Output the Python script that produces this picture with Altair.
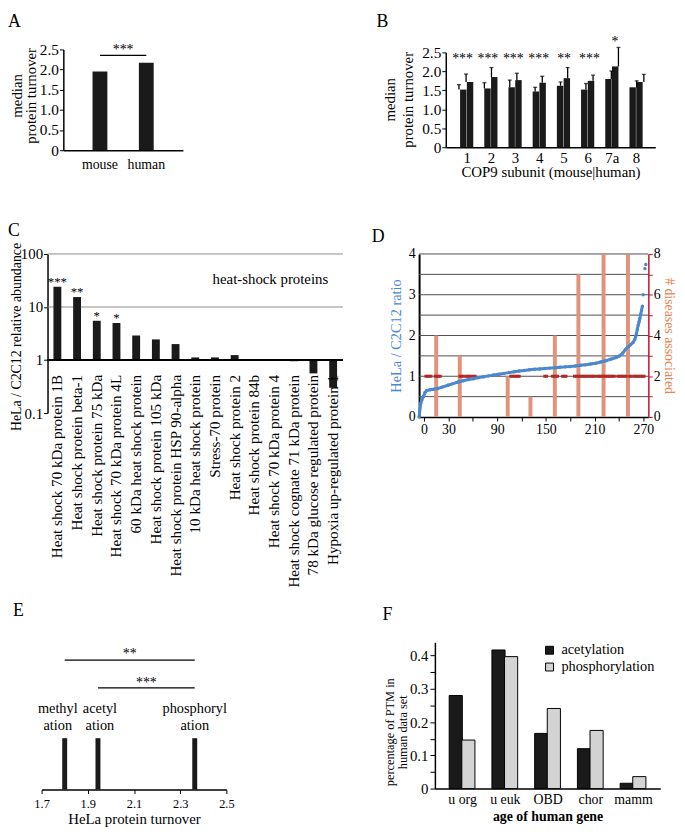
import json
import altair as alt
import pandas as pd

FONT = "Liberation Serif"
BLACK = "#1a1a1a"
GREY_BAR = "#d3d3d3"
BLUE = "#4a88d0"
ORANGE_BAR = "#e0937a"
ORANGE_TXT = "#e8844f"
RED_AXIS = "#c8102e"
DARK_RED = "#b02a2a"

# ---------------- data ----------------
# A
a_species = ["mouse", "human"]
a_turnover = [1.95, 2.17]

# B
b_subunits = ["1", "2", "3", "4", "5", "6", "7a", "8"]
b_mouse = [1.52, 1.55, 1.58, 1.47, 1.62, 1.52, 1.80, 1.58]
b_mouse_err = [1.65, 1.70, 1.77, 1.58, 1.72, 1.68, 2.01, 1.75]
b_human = [1.72, 1.85, 1.77, 1.70, 1.82, 1.75, 2.13, 1.72]
b_human_err = [1.93, 2.10, 1.95, 1.87, 2.10, 1.90, 2.63, 1.92]
b_stars = ["***", "***", "***", "***", "**", "***", "*", ""]

# C
c_proteins = [
    "Heat shock 70 kDa protein 1B",
    "Heat shock protein beta-1",
    "Heat shock protein 75 kDa",
    "Heat shock 70 kDa protein 4L",
    "60 kDa heat shock protein",
    "Heat shock protein 105 kDa",
    "Heat shock protein HSP 90-alpha",
    "10 kDa heat shock protein",
    "Stress-70 protein",
    "Heat shock protein 2",
    "Heat shock protein 84b",
    "Heat shock 70 kDa protein 4",
    "Heat shock cognate 71 kDa protein",
    "78 kDa glucose regulated protein",
    "Hypoxia up-regulated protein 1",
]
c_ratio = [24.0, 15.4, 5.5, 5.0, 2.9, 2.45, 2.0, 1.12, 1.12, 1.24, 1.0, 1.0, 0.95, 0.56, 0.30]
c_stars = ["***", "**", "*", "*", "", "", "", "", "", "", "", "", "", "", ""]

# D  (sorted HeLa / C2C12 ratio curve)
d_idx = [0, 2, 3, 5, 7, 9, 13, 17, 22, 28, 34, 40, 46, 52, 58, 64, 70, 76, 82, 88,
         94, 100, 106, 112, 118, 124, 130, 136, 142, 148, 154, 160, 166, 172, 178,
         184, 190, 196, 202, 208, 214, 220, 226, 232, 236, 240, 243, 246, 249, 252,
         254, 255, 256, 257, 258, 259, 260, 261, 262, 263, 264, 266, 267]
d_ratio = [0.0, 0.34, 0.40, 0.50, 0.60, 0.65, 0.67, 0.68, 0.70, 0.74, 0.78, 0.82,
           0.86, 0.89, 0.92, 0.94, 0.97, 0.99, 1.01, 1.03, 1.05, 1.07, 1.09, 1.11,
           1.13, 1.14, 1.16, 1.17, 1.18, 1.19, 1.20, 1.21, 1.22, 1.23, 1.24, 1.25,
           1.27, 1.28, 1.30, 1.32, 1.35, 1.38, 1.42, 1.46, 1.50, 1.57, 1.66, 1.72,
           1.77, 1.83, 1.90, 1.97, 2.05, 2.15, 2.25, 2.33, 2.42, 2.52, 2.62, 2.72,
           3.00, 3.64, 3.74]
d_bar_idx = [15, 44, 103, 131, 161, 190, 221, 251]
d_bar_count = [4, 3, 2, 1, 4, 7, 8, 8]
d_red_idx = [8, 10, 12, 14, 19, 21, 23, 25, 48, 50, 52, 55, 57, 59, 61, 64, 66,
             108, 110, 112, 114, 116, 118, 148, 150, 157, 159, 161, 163, 169, 171,
             173, 183, 185, 187, 189, 191, 193, 195, 197, 199, 201, 203, 205, 207,
             210, 212, 214, 216, 218, 220, 222, 224, 226, 228, 230, 234, 236, 238,
             240, 242, 244, 248, 250, 253, 255, 257, 259, 261, 263, 265]
d_red_count = [2] * len(d_red_idx)
d_grid = [0.5, 1, 1.5, 2, 2.5, 3, 3.5, 4]

# E
e_ptm = ["methylation", "acetylation", "phosphorylation"]
e_label = ["methyl\nation", "acetyl\nation", "phosphoryl\nation"]
e_turnover = [1.80, 1.944, 2.363]
e_pairs_from = ["methylation", "acetylation"]
e_pairs_to = ["phosphorylation", "phosphorylation"]
e_pair_stars = ["**", "***"]

# F
f_age = ["u org", "u euk", "OBD", "chor", "mamm"]
f_series = ["acetylation", "phosphorylation"]
f_acetyl = [0.280, 0.417, 0.166, 0.120, 0.016]
f_phospho = [0.146, 0.397, 0.241, 0.175, 0.036]

# ---------------- canvas ----------------
W, H = 677, 822


def P(v):
    """page pixel -> canvas pixel (page has an 8px margin)"""
    return v - 8


def letter(ch, x, y):
    return alt.Chart(pd.DataFrame({"t": [ch]})).mark_text(
        align="left", baseline="top", fontSize=18, font=FONT, color="black"
    ).encode(text="t:N", x=alt.value(x), y=alt.value(y))


def vtitle(text, x, y, size):
    return alt.Chart(pd.DataFrame({"t": [text]})).mark_text(
        angle=270, align="center", baseline="alphabetic", fontSize=size, font=FONT
    ).encode(text="t:N", x=alt.value(x), y=alt.value(y))


def turn_axis(x_axis_px):
    return alt.Axis(orient="left", offset=-x_axis_px,
                    values=[0, 0.5, 1, 1.5, 2, 2.5], tickCount=30,
                    labelExpr="datum.value == 0 ? '0' : format(datum.value, '.1f')",
                    tickSize=4, domainWidth=1.5, labelPadding=1, labelFontSize=15.5,
                    labelOverlap=False)


layers = []

# ---------------- A ----------------
xA = alt.Scale(domain=a_species, range=[P(64), P(185)], paddingInner=0.68, paddingOuter=0.63)
yA = alt.Scale(domain=[0, 2.5], range=[P(147), P(45)], nice=False)
dfA = pd.DataFrame({"species": a_species, "turnover": a_turnover})
layers.append(alt.Chart(dfA).mark_bar(color=BLACK).encode(
    x=alt.X("species:N", sort=a_species, title=None, scale=xA,
            axis=alt.Axis(orient="bottom", offset=P(147) - H, labelAngle=0, ticks=False,
                          domainWidth=1.5, labelPadding=8)),
    y=alt.Y("turnover:Q", scale=yA, axis=turn_axis(P(64)), title=None),
))
layers.append(alt.Chart(pd.DataFrame({"a": [a_species[0]], "b": [a_species[1]]})).mark_rule(
    color="black", strokeWidth=1.2
).encode(x=alt.X("a:N", sort=a_species, scale=xA, axis=None), x2="b:N",
         y=alt.YDatum(2.35, scale=yA, axis=None)))
layers.append(alt.Chart(pd.DataFrame({"s": ["***"]})).mark_text(baseline="middle", fontSize=14).encode(
    x=alt.value(P(124.5)), y=alt.YDatum(2.49, scale=yA, axis=None), text="s:N"))
layers += [vtitle("median", P(22), P(92), 15), vtitle("protein turnover", P(36), P(92), 15),
           letter("A", P(8), P(8))]

# ---------------- B ----------------
xB = alt.Scale(domain=[-0.66, 7.59], range=[P(451), P(663)], nice=False, zero=False)
yB = alt.Scale(domain=[0, 2.5], range=[P(144), P(48)], nice=False)
B_SHIFT = {"mouse": -0.14, "human": 0.14}   # half-bar offsets within a subunit group
rows = []
for i, (s, m, me, h, he) in enumerate(zip(b_subunits, b_mouse, b_mouse_err, b_human, b_human_err)):
    rows.append(dict(subunit=s, species="mouse", x=i + B_SHIFT["mouse"], value=m, err=me))
    rows.append(dict(subunit=s, species="human", x=i + B_SHIFT["human"], value=h, err=he))
dfB = pd.DataFrame(rows)
dfBs = pd.DataFrame({
    "x": list(range(len(b_subunits))), "star": b_stars,
    "y": [max(2.33, max(a, b) + 0.13) for a, b in zip(b_mouse_err, b_human_err)],
})
layers.append(alt.Chart(dfB).mark_bar(color=BLACK, size=6.5).encode(
    x=alt.X("x:Q", scale=xB, title="COP9 subunit (mouse|human)",
            axis=alt.Axis(orient="bottom", offset=P(144) - H,
                          values=list(range(len(b_subunits))), tickCount=30,
                          labelExpr=json.dumps(b_subunits) + "[datum.value]",
                          labelAngle=0, ticks=False, domainWidth=1.5, labelPadding=3,
                          labelFontSize=15, titlePadding=0, titleFontSize=15,
                          labelFlush=False, labelOverlap=False)),
    y=alt.Y("value:Q", scale=yB, axis=turn_axis(P(451)), title=None),
))
layers.append(alt.Chart(dfB).mark_rule(color="black", strokeWidth=1.3).encode(
    x=alt.X("x:Q", scale=xB, axis=None), y=alt.Y("value:Q", scale=yB, axis=None), y2="err:Q"))
layers.append(alt.Chart(dfB).mark_tick(color="black", thickness=1.3, size=4, orient="horizontal").encode(
    x=alt.X("x:Q", scale=xB, axis=None), y=alt.Y("err:Q", scale=yB, axis=None)))
layers.append(alt.Chart(dfBs).mark_text(baseline="middle", fontSize=14).encode(
    x=alt.X("x:Q", scale=xB, axis=None), y=alt.Y("y:Q", scale=yB, axis=None), text="star:N"))
layers += [vtitle("median", P(400), P(96), 15), vtitle("protein turnover", P(418), P(96), 15),
           letter("B", P(381), P(8))]

# ---------------- C ----------------
xC = alt.Scale(domain=c_proteins, range=[P(48), P(347)], paddingInner=0.6, paddingOuter=0.3)
yC = alt.Scale(type="log", domain=[0.1, 100], range=[P(413), P(252)], nice=False)
dfC = pd.DataFrame({"protein": c_proteins, "ratio": c_ratio, "star": c_stars})
xCenc = alt.X("protein:N", sort=c_proteins, scale=xC, axis=None)
layers.append(alt.Chart(pd.DataFrame({"g": [10, 100]})).mark_rule(color="#8a8a8a", strokeWidth=1).encode(
    x=alt.value(P(48)), x2=alt.value(P(347)), y=alt.Y("g:Q", scale=yC, axis=None)))
layers.append(alt.Chart(dfC).mark_bar(color=BLACK).encode(
    x=xCenc,
    y=alt.Y("ratio:Q", scale=yC, title=None,
            axis=alt.Axis(orient="left", offset=-P(48), values=[0.1, 1, 10, 100], tickCount=30,
                          labelExpr="datum.value < 1 ? '0.1' : format(datum.value, 'd')",
                          tickSize=4, labelPadding=1, domainWidth=1.5,
                          labelFontSize=15, labelOverlap=False)),
    y2=alt.Y2Datum(1),
))
layers.append(alt.Chart(pd.DataFrame({"b": [1]})).mark_rule(color="black", strokeWidth=2).encode(
    x=alt.value(P(48)), x2=alt.value(P(347)), y=alt.Y("b:Q", scale=yC, axis=None)))
layers.append(alt.Chart(dfC).mark_text(angle=270, align="right", baseline="middle", yOffset=15,
                                       fontSize=15.3).encode(
    x=xCenc, y=alt.YDatum(1, scale=yC, axis=None), text="protein:N"))
layers.append(alt.Chart(dfC).mark_text(baseline="middle", yOffset=-5, fontSize=13).encode(
    x=xCenc, y=alt.Y("ratio:Q", scale=yC, axis=None), text="star:N"))
layers.append(alt.Chart(pd.DataFrame({"t": ["heat-shock proteins"]})).mark_text(
    align="right", baseline="middle", fontSize=15, dx=-5
).encode(x=alt.XDatum(c_proteins[-1], scale=xC, axis=None),
         y=alt.YDatum(34, scale=yC, axis=None), text="t:N"))
layers += [vtitle("HeLa / C2C12 relative abundance", P(21), P(336), 14), letter("C", P(8), P(220))]

# ---------------- D ----------------
xD = alt.Scale(domain=[0, 270], range=[P(424), P(656)], nice=False, zero=False)
yDl = alt.Scale(domain=[0, 4], range=[P(417), P(252)], nice=False)
yDr = alt.Scale(domain=[0, 8], range=[P(417), P(252)], nice=False)
dfDc = pd.DataFrame({"idx": d_idx, "ratio": d_ratio})
dfDb = pd.DataFrame({"idx": d_bar_idx, "count": d_bar_count})
dfDr = pd.DataFrame({"idx": d_red_idx, "count": d_red_count})
layers.append(alt.Chart(pd.DataFrame({"g": d_grid})).mark_rule(color="#4d4d4d", strokeWidth=1).encode(
    x=alt.XDatum(0, scale=xD, axis=None), x2=alt.X2Datum(270),
    y=alt.Y("g:Q", scale=yDl, axis=None)))
layers.append(alt.Chart(dfDb).mark_bar(size=4, color=ORANGE_BAR).encode(
    x=alt.X("idx:Q", scale=xD, title=None,
            axis=alt.Axis(orient="bottom", offset=P(417) - H, values=list(range(0, 271, 30)),
                          tickCount=30,
                          labelExpr="(datum.value / 30) % 2 == 1 || datum.value == 0 ? format(datum.value, 'd') : ''",
                          tickSize=4, domainWidth=1.5, labelPadding=2, labelFlush=False,
                          labelOverlap=False)),
    y=alt.Y("count:Q", scale=yDr, title="# diseases associated",
            axis=alt.Axis(orient="right", offset=P(656) - W, values=list(range(0, 9)), tickCount=30,
                          labelExpr="datum.value % 2 == 0 ? format(datum.value, 'd') : ''",
                          tickSize=4, tickColor=RED_AXIS, domainColor=RED_AXIS, domainWidth=1.5,
                          labelPadding=1, titleColor=ORANGE_TXT, titleAngle=90,
                          titleFontSize=14, titlePadding=1, labelOverlap=False)),
))
layers.append(alt.Chart(dfDr).mark_square(size=9, color=DARK_RED, opacity=1).encode(
    x=alt.X("idx:Q", scale=xD, axis=None), y=alt.Y("count:Q", scale=yDr, axis=None)))
layers.append(alt.Chart(dfDc).transform_filter("datum.idx <= 263").mark_line(color=BLUE, strokeWidth=3).encode(
    x=alt.X("idx:Q", scale=xD, axis=None),
    y=alt.Y("ratio:Q", scale=yDl, title="HeLa / C2C12 ratio",
            axis=alt.Axis(orient="left", offset=-P(424), values=[0, 1, 2, 3, 4], tickCount=30,
                          format="d", ticks=False, domainWidth=2, labelPadding=4,
                          titleColor=BLUE, titleFontSize=14.5, titlePadding=5,
                          labelOverlap=False)),
))
layers.append(alt.Chart(dfDc).mark_circle(color=BLUE, size=12, opacity=1).encode(
    x=alt.X("idx:Q", scale=xD, axis=None), y=alt.Y("ratio:Q", scale=yDl, axis=None)))
layers.append(letter("D", P(376), P(226)))

# ---------------- E ----------------
xE = alt.Scale(domain=[1.7, 2.5], range=[P(42), P(229)], nice=False, zero=False)
dfE = pd.DataFrame({"ptm": e_ptm, "label": e_label, "turnover": e_turnover})
layers.append(alt.Chart(dfE).mark_rule(strokeWidth=5, color=BLACK).encode(
    x=alt.X("turnover:Q", scale=xE, title="HeLa protein turnover",
            axis=alt.Axis(orient="bottom", offset=P(794) - H, values=[1.7, 1.9, 2.1, 2.3, 2.5],
                          tickCount=30, format=".1f", labelFontSize=12.5, tickSize=4,
                          domainWidth=1.5, labelFlush=False, labelPadding=4, titlePadding=2,
                          titleFontSize=15, labelOverlap=False)),
    y=alt.value(P(742)), y2=alt.value(P(794)),
))
E_LABEL_DX = {"methylation": -7, "acetylation": 2, "phosphorylation": 0}
for p in e_ptm:
    layers.append(alt.Chart(dfE).transform_filter(alt.datum.ptm == p).mark_text(
        lineBreak="\n", align="center", baseline="top", fontSize=14.5, lineHeight=17,
        dx=E_LABEL_DX[p]
    ).encode(x=alt.X("turnover:Q", scale=xE, axis=None), y=alt.value(P(706)), text="label:N"))
e_pos = dict(zip(e_ptm, e_turnover))
for (f, t, s), (ly, sy) in zip(zip(e_pairs_from, e_pairs_to, e_pair_stars), [(663, 657), (691, 686)]):
    d = pd.DataFrame({"x1": [e_pos[f]], "x2": [e_pos[t]], "star": [s]})
    d["mid"] = (d["x1"] + d["x2"]) / 2
    layers.append(alt.Chart(d).mark_rule(color="black", strokeWidth=1.3).encode(
        x=alt.X("x1:Q", scale=xE, axis=None), x2="x2:Q", y=alt.value(P(ly))))
    layers.append(alt.Chart(d).mark_text(baseline="middle", fontSize=14).encode(
        x=alt.X("mid:Q", scale=xE, axis=None), y=alt.value(P(sy)), text="star:N"))
layers.append(letter("E", P(13), P(604)))

# ---------------- F ----------------
xF = alt.Scale(domain=[-0.52, 4.52], range=[P(440), P(668)], nice=False, zero=False)
yF = alt.Scale(domain=[0, 0.44], range=[P(793), P(645)], nice=False)
F_SHIFT = {"acetylation": -0.1475, "phosphorylation": 0.1475}
F_FILL = {"acetylation": BLACK, "phosphorylation": GREY_BAR}
rowsF = []
for i, (age, ac, ph) in enumerate(zip(f_age, f_acetyl, f_phospho)):
    rowsF.append(dict(age=age, ptm=f_series[0], x=i + F_SHIFT[f_series[0]], share=ac))
    rowsF.append(dict(age=age, ptm=f_series[1], x=i + F_SHIFT[f_series[1]], share=ph))
dfF = pd.DataFrame(rowsF)
layers.append(alt.Chart(dfF).mark_bar(stroke="black", strokeWidth=1, size=13.3).encode(
    x=alt.X("x:Q", scale=xF, title="age of human gene",
            axis=alt.Axis(orient="bottom", offset=P(793) - H, values=list(range(len(f_age))),
                          tickCount=30, labelExpr=json.dumps(f_age) + "[datum.value]",
                          labelAngle=0, ticks=False, domainWidth=1.5, labelPadding=4,
                          titleFontWeight="bold", titlePadding=3, labelFlush=False,
                          labelOverlap=False)),
    y=alt.Y("share:Q", scale=yF, title=None,
            axis=alt.Axis(orient="left", offset=-P(440),
                          values=[0, 0.05, 0.1, 0.15, 0.2, 0.25, 0.3, 0.35, 0.4], tickCount=30,
                          labelExpr="round(datum.value * 100) % 10 == 0 ? (datum.value == 0 ? '0' : format(datum.value, '.1f')) : ''",
                          tickSize=5, domainWidth=1.5, labelPadding=2,
                          labelFontSize=15, labelOverlap=False)),
    color=alt.Color("ptm:N", sort=f_series,
                    scale=alt.Scale(domain=f_series, range=[F_FILL[s] for s in f_series]),
                    legend=None),
))
dfFl = pd.DataFrame({"ptm": f_series})
for k, s in enumerate(f_series):
    one = dfFl[dfFl["ptm"] == s]
    layers.append(alt.Chart(one).mark_square(size=64, stroke="black", strokeWidth=1, opacity=1,
                                             fill=F_FILL[s]).encode(
        x=alt.value(P(556)), y=alt.value(P(653 + 17 * k))))
    layers.append(alt.Chart(one).mark_text(align="left", baseline="middle", fontSize=14.5).encode(
        x=alt.value(P(568)), y=alt.value(P(653 + 17 * k)), text="ptm:N"))
layers += [vtitle("percentage of PTM in", P(399), P(736), 12.5),
           vtitle("human data set", P(412), P(736), 12.5),
           letter("F", P(387), P(608))]

# ---------------- assemble ----------------
chart = alt.layer(*layers).resolve_scale(
    x="independent", y="independent", color="independent"
).properties(width=W, height=H, padding=0, autosize=alt.AutoSizeParams(type="none"))

chart = chart.configure_view(stroke=None).configure_axis(
    labelFont=FONT, titleFont=FONT, labelFontSize=14, titleFontSize=14,
    titleFontWeight="normal", labelColor="black", titleColor="black",
    domainColor="black", tickColor="black", grid=False, labelOverlap=False,
    minExtent=0,
).configure_text(font=FONT)

chart.save("out.html", embed_options={"renderer": "svg", "actions": False})
